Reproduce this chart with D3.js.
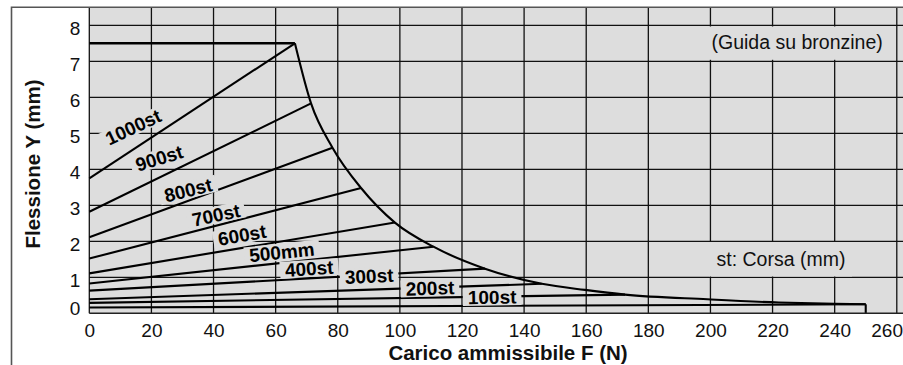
<!DOCTYPE html>
<html>
<head>
<meta charset="utf-8">
<script src="https://cdn.jsdelivr.net/npm/d3@7"></script>
<style>
  html, body { margin: 0; padding: 0; background: #fff; }
  svg { display: block; font-family: "Liberation Sans", Arial, Helvetica, sans-serif; }
</style>
</head>
<body>
<svg id="chart" width="903" height="365"></svg>
<script>
// Deflection Y (mm) versus allowable load F (N), bronze-bushing guide

const xTicks = [0, 20, 40, 60, 80, 100, 120, 140, 160, 180, 200, 220, 240, 260];
const yTicks = [0, 1, 2, 3, 4, 5, 6, 7, 8];

const strokeNames = ["1000st", "900st", "800st", "700st", "600st", "500mm", "400st", "300st", "200st", "100st"];
// deflection with no load and at the load limit for each stroke
const deflectionNoLoad   = [3.75, 2.82, 2.11, 1.52, 1.11, 0.83, 0.63, 0.39, 0.29, 0.16];
const maxLoad            = [66.2, 71.4, 78.3, 87.5, 98.4, 110.8, 127.4, 145.7, 172.5, 250];
const deflectionAtMaxLoad = [7.5, 5.83, 4.6, 3.48, 2.52, 1.85, 1.24, 0.82, 0.52, 0.25];

// allowable-load envelope
const envelopeLoad       = [0, 66.2, 71.4, 78.3, 87.5, 98.4, 110.8, 127.4, 145.7, 159.6, 172.5, 199, 222, 240, 250, 250];
const envelopeDeflection = [7.5, 7.5, 5.83, 4.6, 3.48, 2.52, 1.85, 1.24, 0.82, 0.65, 0.52, 0.39, 0.30, 0.262, 0.25, 0];

// where each stroke label sits (load, deflection) and its tilt
const labelLoad       = [14.1, 22.5, 31.8, 40.8, 49.2, 62.0, 70.8, 90.1, 109.7, 129.7];
const labelDeflection = [5.175, 4.314, 3.425, 2.731, 2.175, 1.703, 1.244, 1.036, 0.703, 0.453];
const labelAngle      = [-25, -17, -14, -12, -10, -6, -4, -3, -2, -1];

const W = 903, H = 365;
const plot = { left: 89.3, right: 903, top: 7.3, bottom: 313.3 };

const x = d3.scaleLinear().domain([0, 262]).range([plot.left, plot.right]);
const y = d3.scaleLinear().domain([0, 8.5]).range([plot.bottom, plot.top]);

const svg = d3.select("#chart");
const BG = "#dddddd";

// plot background
svg.append("rect")
  .attr("x", plot.left).attr("y", plot.top)
  .attr("width", plot.right - plot.left).attr("height", plot.bottom - plot.top)
  .attr("fill", BG);

// grid
const grid = svg.append("g").attr("stroke", "#111").attr("stroke-width", 1.3);
grid.selectAll("line.v").data(xTicks).join("line")
  .attr("class", "v")
  .attr("x1", d => x(d)).attr("x2", d => x(d))
  .attr("y1", plot.top).attr("y2", plot.bottom);
grid.selectAll("line.h").data(yTicks.filter(d => d > 0)).join("line")
  .attr("class", "h")
  .attr("x1", plot.left).attr("x2", plot.right)
  .attr("y1", d => y(d)).attr("y2", d => y(d));

// note boxes
function note(text, xStart, baseline, box) {
  svg.append("rect")
    .attr("x", box[0]).attr("y", box[1])
    .attr("width", box[2] - box[0]).attr("height", box[3] - box[1])
    .attr("fill", BG);
  svg.append("text")
    .attr("x", xStart).attr("y", baseline)
    .attr("font-size", 19.5).attr("fill", "#111")
    .text(text);
}
note("(Guida su bronzine)", 711.5, 49, [709, 26.5, 895, 59.8]);
note("st: Corsa (mm)", 716.5, 266, [709, 242, 852, 276.5]);

// stroke lines
const lines = svg.append("g").attr("fill", "none").attr("stroke", "#000").attr("stroke-width", 2.1);
strokeNames.forEach((name, i) => {
  lines.append("line")
    .attr("x1", x(0)).attr("y1", y(deflectionNoLoad[i]))
    .attr("x2", x(maxLoad[i])).attr("y2", y(deflectionAtMaxLoad[i]));
});

// envelope: flat top, limit curve, vertical drop at the maximum load
const env = envelopeLoad.map((d, i) => [d, envelopeDeflection[i]]);
const n = env.length;
svg.append("path")
  .attr("fill", "none").attr("stroke", "#000").attr("stroke-width", 2.6)
  .attr("d", d3.line().x(d => x(d[0])).y(d => y(d[1]))(env.slice(0, 2)));
svg.append("path")
  .attr("fill", "none").attr("stroke", "#000").attr("stroke-width", 2.1)
  .attr("d", d3.line().curve(d3.curveMonotoneX).x(d => x(d[0])).y(d => y(d[1]))(env.slice(1, n - 1)));
svg.append("path")
  .attr("fill", "none").attr("stroke", "#000").attr("stroke-width", 2.1)
  .attr("d", d3.line().x(d => x(d[0])).y(d => y(d[1]))(env.slice(n - 2)));

// stroke labels with knock-out backgrounds
strokeNames.forEach((name, i) => {
  const g = svg.append("g")
    .attr("transform", `translate(${x(labelLoad[i])},${y(labelDeflection[i])}) rotate(${labelAngle[i]})`);
  const r = g.append("rect").attr("fill", BG);
  const t = g.append("text")
    .attr("text-anchor", "middle").attr("dy", "0.36em")
    .attr("font-size", 19).attr("font-weight", "bold").attr("fill", "#000")
    .text(name);
  const w = t.node().getComputedTextLength();
  r.attr("x", -w / 2 - 5).attr("y", -8.5).attr("width", w + 10).attr("height", 17);
});

// bottom border
svg.append("line")
  .attr("x1", plot.left).attr("x2", plot.right)
  .attr("y1", plot.bottom).attr("y2", plot.bottom)
  .attr("stroke", "#222").attr("stroke-width", 1.6);

// outer frame
svg.append("path")
  .attr("fill", "none").attr("stroke", "#555").attr("stroke-width", 1.6)
  .attr("d", `M11.5,${H} L11.5,${plot.top} L${W},${plot.top}`);

// axes
const xAxis = svg.append("g")
  .attr("transform", `translate(0,${plot.bottom})`)
  .call(d3.axisBottom(x).tickValues(xTicks).tickSize(0).tickPadding(10));
xAxis.select(".domain").remove();
xAxis.selectAll("text").attr("font-size", 19).attr("fill", "#111")
  .attr("font-family", "'Liberation Sans', Arial, Helvetica, sans-serif");
// the last label is kept inside the right edge
xAxis.selectAll("text").filter(d => d === xTicks[xTicks.length - 1])
  .attr("text-anchor", "end")
  .attr("x", W - 0.5 - x(xTicks[xTicks.length - 1]));

const yAxis = svg.append("g")
  .attr("transform", `translate(${plot.left},0)`)
  .call(d3.axisLeft(y).tickValues(yTicks).tickSize(0).tickPadding(9));
yAxis.select(".domain").remove();
yAxis.selectAll("text").attr("font-size", 19).attr("fill", "#111")
  .attr("font-family", "'Liberation Sans', Arial, Helvetica, sans-serif")
  .attr("dy", d => d === 0 ? "0.08em" : "0.5em");

// axis titles
svg.append("text")
  .attr("x", 508).attr("y", 360)
  .attr("text-anchor", "middle")
  .attr("font-size", 20.5).attr("font-weight", "bold").attr("fill", "#111")
  .text("Carico ammissibile F (N)");
svg.append("text")
  .attr("transform", "translate(40,164) rotate(-90)")
  .attr("text-anchor", "middle")
  .attr("font-size", 20.5).attr("font-weight", "bold").attr("fill", "#111")
  .text("Flessione Y (mm)");
</script>
</body>
</html>
